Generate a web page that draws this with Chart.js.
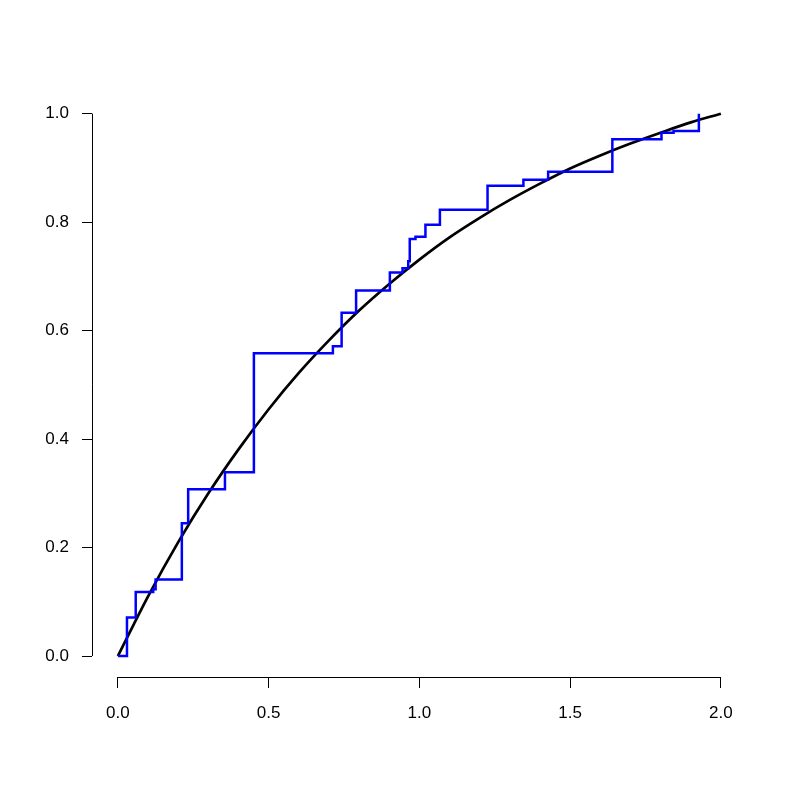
<!DOCTYPE html>
<html>

<head>
  <title>Step function vs fitted curve</title>
  <meta charset="UTF-8">
  <script src="https://cdn.jsdelivr.net/npm/chart.js@4/dist/chart.umd.min.js"></script>
  <style>
    html, body { margin: 0; padding: 0; background: #fff; }
    #wrap { width: 793px; height: 793px; }
  </style>
</head>

<body>
  <div id="wrap"><canvas id="myChart" width="793" height="793"></canvas></div>
  <script>
    // empirical step function (jump positions and heights)
    var stepX = [0, 0.030, 0.059, 0.117, 0.125, 0.212, 0.233, 0.355, 0.451, 0.713, 0.742, 0.790, 0.902, 0.944,
      0.963, 0.968, 0.987, 1.020, 1.068, 1.226, 1.345, 1.427, 1.640, 1.803, 1.843, 1.927];
    var stepY = [0, 0.071, 0.118, 0.123, 0.141, 0.245, 0.3075, 0.339, 0.5585, 0.571, 0.633, 0.674, 0.707, 0.715,
      0.728, 0.769, 0.773, 0.795, 0.823, 0.867, 0.878, 0.893, 0.953, 0.965, 0.968, 1.0];

    var curveX = [0, 0.1, 0.2, 0.3, 0.4, 0.5, 0.6, 0.7, 0.8, 0.9, 1.0, 1.1, 1.2, 1.3, 1.4, 1.5, 1.6, 1.7, 1.8, 1.9, 2.0];
    var curveY = [0, 0.110, 0.210, 0.300, 0.381, 0.455, 0.522, 0.582, 0.637, 0.686, 0.731, 0.772, 0.808, 0.841,
      0.871, 0.899, 0.923, 0.945, 0.965, 0.984, 1.0];

    var xTicks = [0, 0.5, 1.0, 1.5, 2.0];
    var yTicks = [0, 0.2, 0.4, 0.6, 0.8, 1.0];

    var stepPts = stepX.map(function (x, i) { return { x: x, y: stepY[i] }; });
    var curvePts = curveX.map(function (x, i) { return { x: x, y: curveY[i] }; });

    // R style axis lines that only span the tick range
    var axisLines = {
      id: 'axisLines',
      afterDraw: function (chart) {
        var ctx = chart.ctx, a = chart.chartArea;
        var xs = chart.scales.x, ys = chart.scales.y;
        ctx.save();
        ctx.strokeStyle = '#000';
        ctx.lineWidth = 1;
        ctx.beginPath();
        ctx.moveTo(a.left + 0.5, ys.getPixelForValue(yTicks[0]));
        ctx.lineTo(a.left + 0.5, ys.getPixelForValue(yTicks[yTicks.length - 1]));
        ctx.moveTo(xs.getPixelForValue(xTicks[0]), a.bottom + 0.5);
        ctx.lineTo(xs.getPixelForValue(xTicks[xTicks.length - 1]), a.bottom + 0.5);
        ctx.stroke();
        ctx.restore();
      }
    };

    var tickFont = { family: "'Liberation Sans', Arial, sans-serif", size: 17 };

    var ctx = document.getElementById("myChart").getContext("2d");
    var chart = new Chart(ctx, {
      type: "scatter",
      data: {
        datasets: [{
          data: stepPts,
          showLine: true,
          stepped: true,
          borderColor: "#0000ff",
          borderWidth: 2.5,
          pointRadius: 0,
          fill: false
        }, {
          data: curvePts,
          showLine: true,
          cubicInterpolationMode: 'monotone',
          borderColor: "#000000",
          borderWidth: 2.7,
          pointRadius: 0,
          fill: false
        }]
      },
      options: {
        responsive: false,
        animation: false,
        layout: { padding: { top: 92, right: 48, left: 0, bottom: 0 } },
        plugins: {
          legend: { display: false },
          tooltip: { enabled: false }
        },
        scales: {
          x: {
            type: 'linear',
            min: -0.086,
            max: 2.08,
            afterBuildTicks: function (s) { s.ticks = xTicks.map(function (v) { return { value: v }; }); },
            afterFit: function (s) { s.height = 116; },
            border: { display: false },
            grid: { drawOnChartArea: false, drawTicks: true, tickLength: 11, color: '#000', lineWidth: 1 },
            ticks: {
              color: '#000',
              font: tickFont,
              padding: 15,
              maxRotation: 0,
              callback: function (v) { return v.toFixed(1); }
            }
          },
          y: {
            type: 'linear',
            min: -0.0387,
            max: 1.04,
            afterBuildTicks: function (s) { s.ticks = yTicks.map(function (v) { return { value: v }; }); },
            afterFit: function (s) { s.width = 92; },
            border: { display: false },
            grid: { drawOnChartArea: false, drawTicks: true, tickLength: 10, color: '#000', lineWidth: 1 },
            ticks: {
              color: '#000',
              font: tickFont,
              padding: 13,
              callback: function (v) { return v.toFixed(1); }
            }
          }
        }
      },
      plugins: [axisLines]
    });
  </script>
</body>

</html>
